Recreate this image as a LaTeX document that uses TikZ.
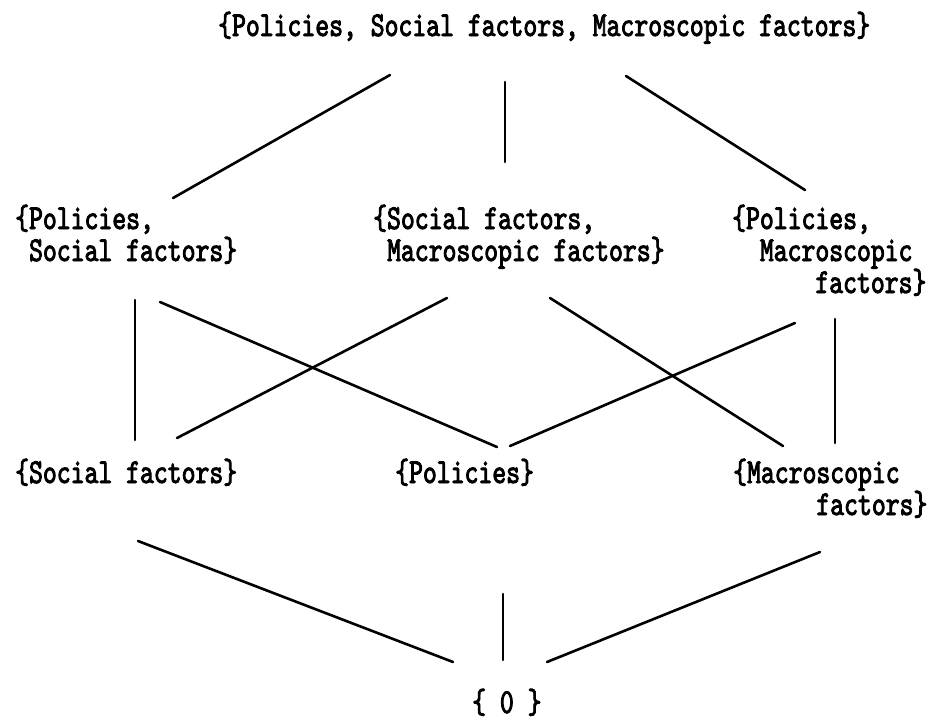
\documentclass[tikz,border=0pt]{standalone}
\usepackage{fontspec}
\newfontfamily\tw[FakeStretch=0.755,FakeBold=2.5]{lmmono10-regular.otf}
\begin{document}
\begin{tikzpicture}[x=1pt,y=-1pt,
  lbl/.style={anchor=base west, inner sep=0pt, font=\tw\fontsize{35}{32}\selectfont},
  edge/.style={line width=2.6pt, line cap=round}]
\path[use as bounding box, fill=white] (0,0) rectangle (943,723);
% labels
\node[lbl] (top)  at (218,36)   {\{Policies, Social factors, Macroscopic factors\}};
\node[lbl] (lpsA) at (15,229)   {\{Policies,};
\node[lbl] (lpsB) at (28.9,261) {Social factors\}};
\node[lbl] (smfA) at (373,229)  {\{Social factors,};
\node[lbl] (smfB) at (386.9,261){Macroscopic factors\}};
\node[lbl] (pmfA) at (732,229)  {\{Policies,};
\node[lbl] (pmfB) at (759.7,261){Macroscopic};
\node[lbl] (pmfC) at (815.2,293){factors\}};
\node[lbl] (sf)   at (15,483)   {\{Social factors\}};
\node[lbl] (pol)  at (395,483)  {\{Policies\}};
\node[lbl] (mfA)  at (733,483)  {\{Macroscopic};
\node[lbl] (mfB)  at (816.2,515){factors\}};
\node[lbl] (zero) at (472,713)  {\{ 0 \}};
% connector end points
\coordinate (t1) at (390,75);   \coordinate (t1e) at (173,198);
\coordinate (t2) at (505,82);   \coordinate (t2e) at (505,162);
\coordinate (t3) at (626,76);   \coordinate (t3e) at (805,190);
\coordinate (l1) at (135,300);  \coordinate (l1e) at (135,440);
\coordinate (l2) at (160,302);  \coordinate (l2e) at (497,447);
\coordinate (m1) at (447,298);  \coordinate (m1e) at (177,438);
\coordinate (m2) at (550,298);  \coordinate (m2e) at (783,446);
\coordinate (r1) at (795,323);  \coordinate (r1e) at (510,446);
\coordinate (r2) at (835,319);  \coordinate (r2e) at (835,443);
\coordinate (b1) at (138,541);  \coordinate (b1e) at (453,662);
\coordinate (b2) at (503,594);  \coordinate (b2e) at (503,660);
\coordinate (b3) at (820,552);  \coordinate (b3e) at (547,662);
% connectors
\foreach \a in {t1,t2,t3,l1,l2,m1,m2,r1,r2,b1,b2,b3}
  \draw[edge] (\a) -- (\a e);
\end{tikzpicture}
\end{document}
